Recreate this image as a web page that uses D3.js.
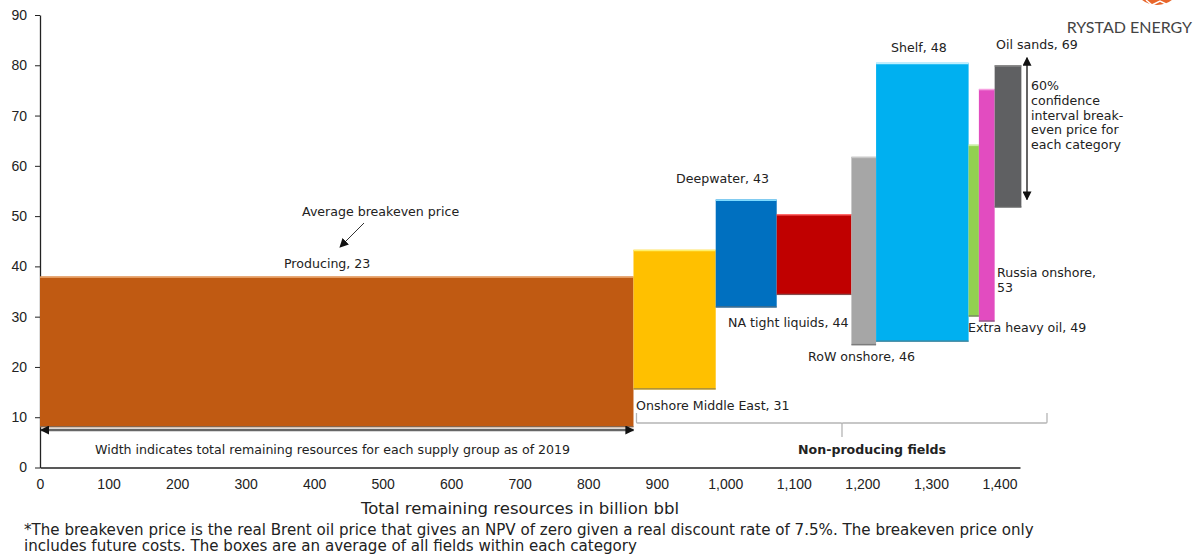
<!DOCTYPE html>
<html>
<head>
<meta charset="utf-8">
<script src="https://cdn.jsdelivr.net/npm/d3@7"></script>
<style>
  body { margin: 0; background: #fff; }
  svg { display: block; }
</style>
</head>
<body>
<svg id="chart" width="1196" height="556"></svg>
<script>
// supply groups, in order along the x axis
const groups = ["Producing", "Onshore Middle East", "Deepwater", "NA tight liquids", "RoW onshore",
  "Shelf", "Extra heavy oil", "Russia onshore", "Oil sands"];
const resources = [866, 120, 89, 109, 36, 135, 15, 23, 39];   // billion bbl (box width)
const lowPrice  = [8, 15.5, 31.8, 34.3, 24.3, 25, 30, 29, 51.7]; // USD/bbl (box bottom)
const highPrice = [38, 43.3, 53.3, 50.4, 61.8, 80.5, 64.2, 75.3, 80];  // USD/bbl (box top)
const avgPrice  = [23, 31, 43, 44, 46, 48, 49, 53, 69];
const colors = ["#c05a12", "#ffc000", "#0070c0", "#c00000", "#a6a6a6", "#00b0f0", "#92d050", "#e24cc0", "#5f6062"];
const topEdge = ["#f2b27a", "#fff06a", "#7fdcff", "#ff6a6a", "#c8c8c8", "#bff0ff", "#c8f0a0", "#f6a0e0", "#8a8a8a"];

const xTicks = [0, 100, 200, 300, 400, 500, 600, 700, 800, 900, 1000, 1100, 1200, 1300, 1400];
const yTicks = [0, 10, 20, 30, 40, 50, 60, 70, 80, 90];

const svg = d3.select("#chart");
const labelFont = "DejaVu Sans, Verdana, sans-serif";
const tickFont = "Liberation Sans, Arial, sans-serif";

const x = d3.scaleLinear().domain([0, 1430]).range([40, 1020]);
const y = d3.scaleLinear().domain([0, 90]).range([467.5, 15]);

// cumulative start of each box
let acc = 0;
const boxes = groups.map((g, i) => {
  const b = { name: g, x0: acc, x1: acc + resources[i], lo: lowPrice[i], hi: highPrice[i], avg: avgPrice[i], i };
  acc += resources[i];
  return b;
});

// axes
const xAxis = svg.append("g")
  .attr("transform", `translate(0,${y(0)})`)
  .call(d3.axisBottom(x).tickValues(xTicks).tickSize(0).tickPadding(12)
    .tickFormat(d3.format(",")));
xAxis.select(".domain").attr("stroke", "#222").attr("stroke-width", 1.3);
xAxis.selectAll("text").attr("font-family", tickFont).attr("font-size", 14).attr("fill", "#222");

const yAxis = svg.append("g")
  .attr("transform", `translate(${x(0)},0)`)
  .call(d3.axisLeft(y).tickValues(yTicks).tickSize(5).tickPadding(8).tickSizeOuter(0));
yAxis.select(".domain").attr("stroke", "#222").attr("stroke-width", 1.3);
yAxis.selectAll("line").attr("stroke", "#222");
yAxis.selectAll("text").attr("font-family", tickFont).attr("font-size", 14).attr("fill", "#222");

// boxes
const box = svg.append("g").selectAll("g").data(boxes).join("g");
box.append("rect")
  .attr("x", d => x(d.x0))
  .attr("width", d => x(d.x1) - x(d.x0))
  .attr("y", d => y(d.hi))
  .attr("height", d => y(d.lo) - y(d.hi))
  .attr("fill", d => colors[d.i]);
box.append("line")
  .attr("x1", d => x(d.x0)).attr("x2", d => x(d.x1))
  .attr("y1", d => y(d.hi) + 0.7).attr("y2", d => y(d.hi) + 0.7)
  .attr("stroke", d => topEdge[d.i]).attr("stroke-width", 1.4);
box.append("line")
  .attr("x1", d => x(d.x0)).attr("x2", d => x(d.x1))
  .attr("y1", d => y(d.lo) - 0.7).attr("y2", d => y(d.lo) - 0.7)
  .attr("stroke", "#6b6b6b").attr("stroke-opacity", 0.7).attr("stroke-width", 1.4);

// box labels
const labelPos = [
  { dx: 284, dy: 268 },
  { dx: 636, dy: 410 },
  { dx: 676, dy: 183 },
  { dx: 728, dy: 327 },
  { dx: 808, dy: 361 },
  { dx: 891, dy: 52 },
  { dx: 968, dy: 332 },
  { dx: 997, dy: 277 },
  { dx: 996, dy: 49 }
];
const labels = svg.append("g")
  .attr("font-family", labelFont).attr("font-size", 12.6).attr("fill", "#222");
boxes.forEach((b, i) => {
  const p = labelPos[i];
  const t = labels.append("text").attr("x", p.dx).attr("y", p.dy);
  if (b.name === "Russia onshore") {
    t.append("tspan").attr("x", p.dx).text(b.name + ",");
    t.append("tspan").attr("x", p.dx).attr("dy", 15).text(b.avg);
  } else {
    t.text(`${b.name}, ${b.avg}`);
  }
});

// arrow markers
const defs = svg.append("defs");
defs.append("marker").attr("id", "head").attr("viewBox", "0 0 10 10")
  .attr("refX", 9).attr("refY", 5).attr("markerWidth", 9).attr("markerHeight", 9)
  .attr("markerUnits", "userSpaceOnUse").attr("orient", "auto-start-reverse")
  .append("path").attr("d", "M0,0L10,5L0,10z").attr("fill", "#111");

// average breakeven price annotation
labels.append("text").attr("x", 302).attr("y", 216).text("Average breakeven price");
svg.append("line")
  .attr("x1", 364).attr("y1", 223).attr("x2", 340).attr("y2", 247)
  .attr("stroke", "#333").attr("stroke-width", 1).attr("marker-end", "url(#head)");

// width arrow
const wy = 430;
svg.append("line")
  .attr("x1", x(0) + 1).attr("x2", x(boxes[0].x1))
  .attr("y1", wy).attr("y2", wy)
  .attr("stroke", "#666").attr("stroke-width", 2.5)
  .attr("marker-start", "url(#head)").attr("marker-end", "url(#head)");
labels.append("text").attr("x", 95).attr("y", 454)
  .text("Width indicates total remaining resources for each supply group as of 2019");

// non-producing brace
const bx0 = x(boxes[1].x0) + 3, bx1 = 1047, by = 423, bmid = 842;
svg.append("path")
  .attr("d", `M${bx0},413V${by - 1}q0,1 1,1H${bmid - 1}q1,0 1,1V437M${bmid},${by + 1}q0,-1 1,-1H${bx1 - 1}q1,0 1,-1V413`)
  .attr("fill", "none").attr("stroke", "#b5b5b5").attr("stroke-width", 1.3);
labels.append("text").attr("x", 798).attr("y", 454).attr("font-weight", "bold")
  .text("Non-producing fields");

// confidence interval arrow
svg.append("line")
  .attr("x1", 1027).attr("x2", 1027).attr("y1", y(81.5)).attr("y2", y(53.3))
  .attr("stroke", "#111").attr("stroke-width", 1.3)
  .attr("marker-start", "url(#head)").attr("marker-end", "url(#head)");
const ci = labels.append("text").attr("x", 1031).attr("y", 90);
["60%", "confidence", "interval break-", "even price for", "each category"].forEach((s, i) => {
  ci.append("tspan").attr("x", 1031).attr("dy", i ? 14.8 : 0).text(s);
});

// axis title and footnote
svg.append("text").attr("x", 520).attr("y", 514).attr("text-anchor", "middle")
  .attr("font-family", labelFont).attr("font-size", 16.5).attr("fill", "#222")
  .text("Total remaining resources in billion bbl");
const foot = svg.append("text").attr("font-family", labelFont).attr("font-size", 15.1).attr("fill", "#222");
foot.append("tspan").attr("x", 24).attr("y", 535)
  .text("*The breakeven price is the real Brent oil price that gives an NPV of zero given a real discount rate of 7.5%. The breakeven price only");
foot.append("tspan").attr("x", 24).attr("y", 551)
  .text("includes future costs. The boxes are an average of all fields within each category");

// logo
const logo = svg.append("g");
logo.append("clipPath").attr("id", "logoClip").append("rect")
  .attr("x", 1100).attr("y", 0).attr("width", 96).attr("height", 6);
logo.append("ellipse").attr("cx", 1157).attr("cy", -14).attr("rx", 22).attr("ry", 19)
  .attr("fill", "#e8652a").attr("clip-path", "url(#logoClip)");
logo.append("path").attr("d", "M1146,0L1152,5L1160,1L1166,4")
  .attr("stroke", "#fff").attr("stroke-width", 1.5).attr("fill", "none").attr("clip-path", "url(#logoClip)");
logo.append("text").attr("x", 1192).attr("y", 33).attr("text-anchor", "end")
  .attr("font-family", "Lato, Open Sans, sans-serif").attr("font-size", 16).attr("fill", "#444")
  .text("RYSTAD ENERGY");
</script>
</body>
</html>
